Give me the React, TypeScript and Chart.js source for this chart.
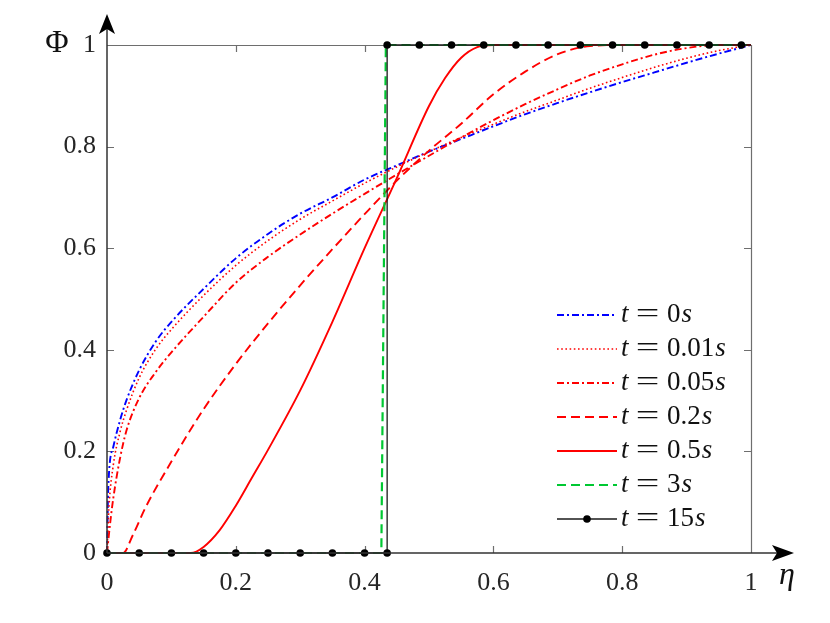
import React, { useEffect, useRef } from "react";
import { Chart, registerables } from "chart.js";

Chart.register(...registerables);

// ---------- data ----------
const eta_t0 = [0, 0.002, 0.01, 0.02, 0.03, 0.05, 0.075, 0.1, 0.15, 0.2, 0.25, 0.3, 0.35, 0.4, 0.45, 0.5, 0.55, 0.6, 0.65, 0.7, 0.75, 0.8, 0.85, 0.9, 0.95, 1];
const phi_t0 = [0, 0.13, 0.21, 0.26, 0.3, 0.36, 0.415, 0.455, 0.52, 0.58, 0.628, 0.668, 0.7, 0.735, 0.763, 0.79, 0.815, 0.84, 0.864, 0.886, 0.907, 0.927, 0.946, 0.965, 0.983, 1];

const eta_t001 = [0, 0.003, 0.01, 0.02, 0.03, 0.05, 0.075, 0.1, 0.15, 0.2, 0.25, 0.3, 0.35, 0.4, 0.45, 0.5, 0.55, 0.6, 0.65, 0.7, 0.75, 0.8, 0.85, 0.9, 0.95, 1];
const phi_t001 = [0, 0.09, 0.175, 0.237, 0.28, 0.345, 0.4, 0.44, 0.507, 0.566, 0.615, 0.657, 0.693, 0.728, 0.76, 0.79, 0.818, 0.844, 0.869, 0.892, 0.915, 0.936, 0.956, 0.974, 0.989, 1];

const eta_t005 = [0, 0.005, 0.01, 0.02, 0.03, 0.05, 0.075, 0.1, 0.15, 0.2, 0.25, 0.3, 0.35, 0.4, 0.45, 0.5, 0.55, 0.6, 0.65, 0.7, 0.75, 0.8, 0.85, 0.9, 0.95, 1];
const phi_t005 = [0, 0.06, 0.11, 0.185, 0.24, 0.305, 0.355, 0.395, 0.465, 0.532, 0.583, 0.627, 0.668, 0.707, 0.745, 0.782, 0.818, 0.852, 0.884, 0.913, 0.94, 0.962, 0.981, 0.994, 1, 1];

const eta_t02 = [0, 0.025, 0.04, 0.06, 0.1, 0.15, 0.2, 0.25, 0.3, 0.35, 0.4, 0.45, 0.5, 0.55, 0.6, 0.65, 0.7, 0.75, 0.8, 0.9, 1];
const phi_t02 = [0, 0, 0.035, 0.09, 0.18, 0.283, 0.372, 0.452, 0.527, 0.598, 0.667, 0.733, 0.792, 0.845, 0.903, 0.948, 0.982, 0.998, 1, 1, 1];

const eta_t05 = [0, 0.13, 0.15, 0.175, 0.2, 0.225, 0.25, 0.3, 0.35, 0.4, 0.45, 0.5, 0.525, 0.55, 0.575, 0.6, 1];
const phi_t05 = [0, 0, 0.012, 0.045, 0.093, 0.148, 0.203, 0.32, 0.455, 0.6, 0.738, 0.88, 0.935, 0.975, 0.996, 1, 1];

const eta_t3 = [0, 0.426, 0.433, 1];
const phi_t3 = [0, 0, 1, 1];

const eta_t15 = [0, 0.05, 0.1, 0.15, 0.2, 0.25, 0.3, 0.35, 0.4, 0.435, 0.435, 0.485, 0.535, 0.585, 0.635, 0.685, 0.735, 0.785, 0.835, 0.885, 0.935, 0.985, 1];
const phi_t15 = [0, 0, 0, 0, 0, 0, 0, 0, 0, 0, 1, 1, 1, 1, 1, 1, 1, 1, 1, 1, 1, 1, 1];

const legendTimes = ["0", "0.01", "0.05", "0.2", "0.5", "3", "15"];
const tickValues = [0, 0.2, 0.4, 0.6, 0.8, 1];
const tickLabels = ["0", "0.2", "0.4", "0.6", "0.8", "1"];

const toXY = (xs: number[], ys: number[]) => xs.map((x, i) => ({ x, y: ys[i] }));

const SERIF = '"Liberation Serif", "DejaVu Serif", serif';

const decorPlugin = {
  id: "decor",
  beforeDatasetsDraw(chart: any) {
    const { ctx, chartArea } = chart;
    const { left, right, top, bottom } = chartArea;
    const xs = chart.scales.x;
    const ys = chart.scales.y;
    ctx.save();
    ctx.strokeStyle = "#6e6e6e";
    ctx.lineWidth = 1.2;
    ctx.beginPath();
    ctx.moveTo(left, top + 0.5);
    ctx.lineTo(right, top + 0.5);
    ctx.moveTo(right + 0.5, top);
    ctx.lineTo(right + 0.5, bottom);
    ctx.stroke();
    const tl = 7;
    ctx.beginPath();
    [0.2, 0.4, 0.6, 0.8].forEach((v) => {
      const px = Math.round(xs.getPixelForValue(v)) + 0.5;
      ctx.moveTo(px, bottom);
      ctx.lineTo(px, bottom - tl);
      ctx.moveTo(px, top);
      ctx.lineTo(px, top + tl);
      const py = Math.round(ys.getPixelForValue(v)) + 0.5;
      ctx.moveTo(left, py);
      ctx.lineTo(left + tl, py);
      ctx.moveTo(right, py);
      ctx.lineTo(right - tl, py);
    });
    ctx.stroke();
    ctx.restore();
  },
  afterDatasetsDraw(chart: any) {
    const { ctx, chartArea } = chart;
    const { left, bottom } = chartArea;
    ctx.save();
    ctx.strokeStyle = "#333";
    ctx.fillStyle = "#000";
    ctx.lineWidth = 1.5;
    ctx.beginPath();
    ctx.moveTo(left, bottom);
    ctx.lineTo(786, bottom);
    ctx.moveTo(left, bottom);
    ctx.lineTo(left, 20);
    ctx.stroke();
    ctx.beginPath();
    ctx.moveTo(left, 14);
    ctx.lineTo(left - 8, 34);
    ctx.lineTo(left, 29);
    ctx.lineTo(left + 8, 34);
    ctx.closePath();
    ctx.fill();
    ctx.beginPath();
    ctx.moveTo(794, bottom);
    ctx.lineTo(772, bottom - 8);
    ctx.lineTo(777, bottom);
    ctx.lineTo(772, bottom + 8);
    ctx.closePath();
    ctx.fill();

    ctx.fillStyle = "#111";
    ctx.textBaseline = "middle";
    ctx.textAlign = "center";
    ctx.font = `32px ${SERIF}`;
    ctx.fillText("Φ", 57, 44);
    ctx.font = `italic 32px ${SERIF}`;
    ctx.fillText("η", 787, 576);

    const rowY0 = 315;
    const rowStep = 34;
    const lx0 = 557;
    const lx1 = 617;
    chart.data.datasets.forEach((ds: any, i: number) => {
      const y = rowY0 + i * rowStep;
      ctx.save();
      ctx.strokeStyle = ds.borderColor;
      ctx.lineWidth = ds.borderWidth;
      ctx.setLineDash(ds.borderDash || []);
      ctx.beginPath();
      ctx.moveTo(lx0, y);
      ctx.lineTo(lx1, y);
      ctx.stroke();
      ctx.restore();
      if (ds.legendMarker) {
        ctx.beginPath();
        ctx.fillStyle = "#000";
        ctx.arc((lx0 + lx1) / 2, y, 3.8, 0, Math.PI * 2);
        ctx.fill();
      }
      ctx.fillStyle = "#111";
      ctx.textBaseline = "middle";
      ctx.textAlign = "left";
      ctx.font = `italic 27px ${SERIF}`;
      ctx.fillText("t", 621, y);
      ctx.save();
      ctx.translate(647.5, y);
      ctx.scale(1.55, 1);
      ctx.textAlign = "center";
      ctx.font = `27px ${SERIF}`;
      ctx.fillText("=", 0, 0);
      ctx.restore();
      ctx.font = `27px ${SERIF}`;
      ctx.textAlign = "left";
      ctx.fillText(legendTimes[i], 667, y);
      const w = ctx.measureText(legendTimes[i]).width;
      ctx.font = `italic 27px ${SERIF}`;
      ctx.fillText("s", 667 + w + 1, y);
    });
    ctx.restore();
  },
};

export default function App() {
  const ref = useRef<HTMLCanvasElement | null>(null);
  useEffect(() => {
    if (!ref.current) return;
    const common = { fill: false, pointRadius: 0, clip: false as any };
    const labelFor = (v: any) => {
      const k = tickValues.findIndex((t) => Math.abs(t - Number(v)) < 1e-9);
      return k >= 0 ? tickLabels[k] : "";
    };
    const chart = new Chart(ref.current, {
      type: "line",
      data: {
        datasets: [
          { ...common, label: "t = 0s", data: toXY(eta_t0, phi_t0), borderColor: "#0000ff", borderWidth: 1.9, borderDash: [7, 3, 2, 3], cubicInterpolationMode: "monotone", order: 6 },
          { ...common, label: "t = 0.01s", data: toXY(eta_t001, phi_t001), borderColor: "#ff0000", borderWidth: 1.6, borderDash: [1.6, 2.6], cubicInterpolationMode: "monotone", order: 5 },
          { ...common, label: "t = 0.05s", data: toXY(eta_t005, phi_t005), borderColor: "#ff0000", borderWidth: 1.9, borderDash: [7, 3, 2, 3], cubicInterpolationMode: "monotone", order: 4 },
          { ...common, label: "t = 0.2s", data: toXY(eta_t02, phi_t02), borderColor: "#ff0000", borderWidth: 1.9, borderDash: [9, 5], cubicInterpolationMode: "monotone", order: 3 },
          { ...common, label: "t = 0.5s", data: toXY(eta_t05, phi_t05), borderColor: "#ff0000", borderWidth: 1.9, cubicInterpolationMode: "monotone", order: 2 },
          { ...common, label: "t = 3s", data: toXY(eta_t3, phi_t3), borderColor: "#00c832", borderWidth: 2.2, borderDash: [9, 5], tension: 0, order: 1 },
          { ...common, label: "t = 15s", data: toXY(eta_t15, phi_t15), borderColor: "#1a1a1a", borderWidth: 1.3, tension: 0, order: 0,
            pointRadius: eta_t15.map((_, i) => (i === eta_t15.length - 1 ? 0 : 3.8)),
            pointBackgroundColor: "#000", pointBorderColor: "#000", pointBorderWidth: 0, legendMarker: true } as any,
        ] as any,
      },
      options: {
        animation: false,
        responsive: false,
        maintainAspectRatio: false,
        layout: { padding: { left: 0, top: 45, right: 79, bottom: 0 } },
        plugins: { legend: { display: false }, tooltip: { enabled: false } },
        scales: {
          x: {
            type: "linear",
            min: 0,
            max: 1,
            grid: { display: false, drawTicks: false, tickLength: 0 },
            border: { display: false },
            afterBuildTicks: (s: any) => { s.ticks = tickValues.map((v) => ({ value: v })); },
            afterFit: (s: any) => { s.height = 70; },
            ticks: { color: "#262626", padding: 15, maxRotation: 0, font: { family: SERIF, size: 26 }, callback: labelFor },
          },
          y: {
            type: "linear",
            min: 0,
            max: 1,
            grid: { display: false, drawTicks: false, tickLength: 0 },
            border: { display: false },
            afterBuildTicks: (s: any) => { s.ticks = tickValues.map((v) => ({ value: v })); },
            afterFit: (s: any) => { s.width = 107; },
            ticks: { color: "#262626", padding: 11, font: { family: SERIF, size: 26 }, callback: labelFor },
          },
        },
      } as any,
      plugins: [decorPlugin],
    });
    return () => chart.destroy();
  }, []);
  return (
    <div style={{ position: "absolute", left: 0, top: 0, width: 830, height: 623, background: "#fff" }}>
      <canvas ref={ref} width={830} height={623} style={{ width: 830, height: 623, display: "block" }} />
    </div>
  );
}
